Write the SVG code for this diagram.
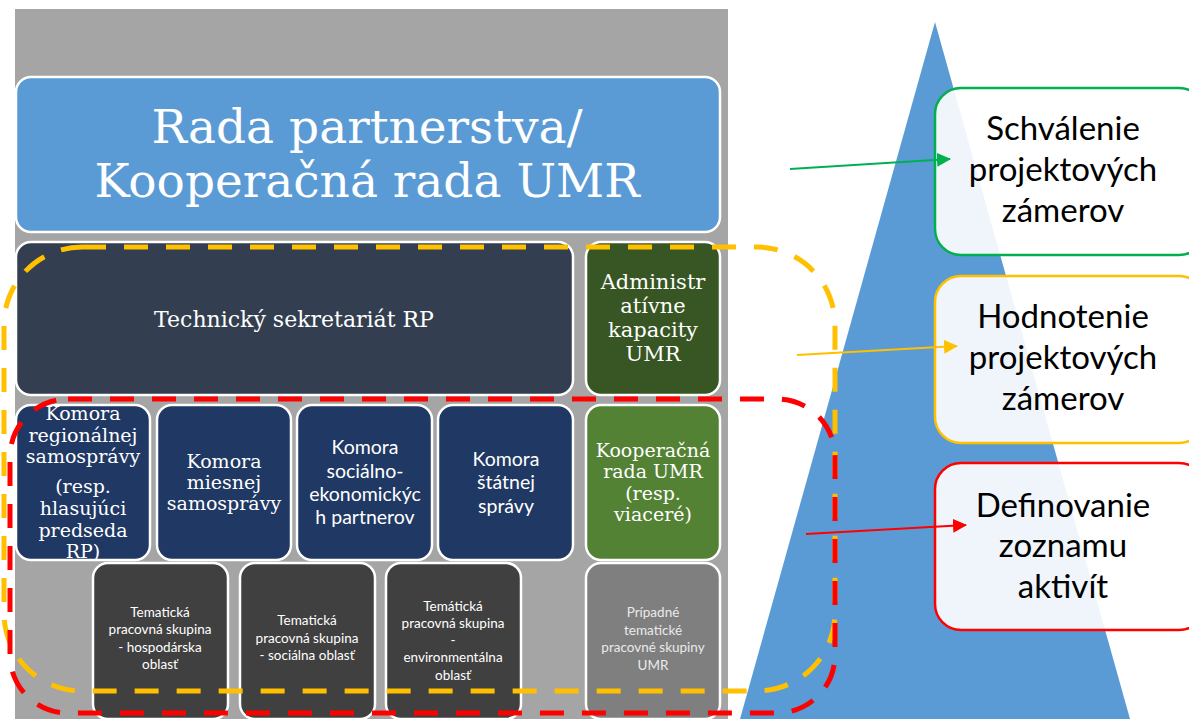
<svg xmlns="http://www.w3.org/2000/svg" width="1189" height="719" viewBox="0 0 1189 719">
<style>
.bx{stroke:#fff;stroke-width:2.5}
.serif{font-family:"DejaVu Serif","Liberation Serif",serif;fill:#fff;text-anchor:middle}
.sans{font-family:Lato,"Liberation Sans",sans-serif;fill:#fff;text-anchor:middle}
.rt{font-family:Lato,"Liberation Sans",sans-serif;fill:#000;text-anchor:middle;font-size:33px}
.rb{fill:#fff;fill-opacity:0.9;stroke-width:2.5}
</style>
<defs>
<marker id="ag" markerWidth="14" markerHeight="14" refX="13" refY="7" orient="auto" markerUnits="userSpaceOnUse"><path d="M0,0 L14,7 L0,14 Z" fill="#00B050"/></marker>
<marker id="ay" markerWidth="14" markerHeight="14" refX="13" refY="7" orient="auto" markerUnits="userSpaceOnUse"><path d="M0,0 L14,7 L0,14 Z" fill="#FFC000"/></marker>
<marker id="ar" markerWidth="14" markerHeight="14" refX="13" refY="7" orient="auto" markerUnits="userSpaceOnUse"><path d="M0,0 L14,7 L0,14 Z" fill="#FF0000"/></marker>
</defs>
<rect x="0" y="0" width="1189" height="719" fill="#fff"/>
<rect id="bg" x="15" y="9" width="713" height="710" fill="#A5A5A5"/>
<polygon id="pyramid" points="935,22 1130,719 740,719" fill="#5B9BD5"/>

<g id="rada"><rect class="bx" x="16" y="77" width="704" height="155" rx="15" fill="#5B9BD5"/>
<text class="serif" font-size="47"><tspan x="367" y="143">Rada partnerstva/</tspan><tspan x="367" y="197">Kooperačná rada UMR</tspan></text></g>

<g id="ts"><rect class="bx" x="16" y="242" width="557" height="153" rx="15" fill="#333F50"/>
<text class="serif" font-size="22" x="294" y="327">Technický sekretariát RP</text></g>

<g id="adm"><rect class="bx" x="586" y="242" width="134" height="153" rx="15" fill="#375623"/>
<text class="serif" font-size="21"><tspan x="653" y="289">Administr</tspan><tspan x="653" y="313">atívne</tspan><tspan x="653" y="337">kapacity</tspan><tspan x="653" y="361">UMR</tspan></text></g>

<g id="k1"><rect class="bx" x="16" y="405" width="134" height="155" rx="15" fill="#1F3864"/>
<text class="serif" font-size="19"><tspan x="83" y="420">Komora</tspan><tspan x="83" y="442">regionálnej</tspan><tspan x="83" y="463">samosprávy</tspan><tspan x="83" y="493">(resp.</tspan><tspan x="83" y="515">hlasujúci</tspan><tspan x="83" y="537">predseda</tspan><tspan x="83" y="558">RP)</tspan></text></g>

<g id="k2"><rect class="bx" x="157" y="405" width="134" height="155" rx="15" fill="#1F3864"/>
<text class="serif" font-size="19"><tspan x="224" y="468">Komora</tspan><tspan x="224" y="489">miesnej</tspan><tspan x="224" y="510">samosprávy</tspan></text></g>

<g id="k3"><rect class="bx" x="297" y="405" width="135" height="155" rx="15" fill="#1F3864"/>
<text class="sans" font-size="19.5"><tspan x="365" y="454">Komora</tspan><tspan x="365" y="478">sociálno-</tspan><tspan x="365" y="501">ekonomickýc</tspan><tspan x="365" y="524">h partnerov</tspan></text></g>

<g id="k4"><rect class="bx" x="438" y="405" width="135" height="155" rx="15" fill="#1F3864"/>
<text class="sans" font-size="19.5"><tspan x="506" y="466">Komora</tspan><tspan x="506" y="489">štátnej</tspan><tspan x="506" y="513">správy</tspan></text></g>

<g id="kr"><rect class="bx" x="586" y="405" width="134" height="155" rx="15" fill="#548235"/>
<text class="serif" font-size="19"><tspan x="653" y="457">Kooperačná</tspan><tspan x="653" y="478">rada UMR</tspan><tspan x="653" y="500">(resp.</tspan><tspan x="653" y="521">viaceré)</tspan></text></g>

<g id="t1"><rect class="bx" x="93" y="563" width="135" height="156" rx="15" fill="#404040"/>
<text class="sans" font-size="13.5"><tspan x="160" y="617">Tematická</tspan><tspan x="160" y="634">pracovná skupina</tspan><tspan x="160" y="652">- hospodárska</tspan><tspan x="160" y="669">oblasť</tspan></text></g>

<g id="t2"><rect class="bx" x="240" y="563" width="135" height="156" rx="15" fill="#404040"/>
<text class="sans" font-size="13.5"><tspan x="307" y="625">Tematická</tspan><tspan x="307" y="643">pracovná skupina</tspan><tspan x="307" y="660">- sociálna oblasť</tspan></text></g>

<g id="t3"><rect class="bx" x="386" y="563" width="135" height="156" rx="15" fill="#404040"/>
<text class="sans" font-size="13.5"><tspan x="453" y="611">Temátická</tspan><tspan x="453" y="628">pracovná skupina</tspan><tspan x="453" y="645">-</tspan><tspan x="453" y="662">environmentálna</tspan><tspan x="453" y="680">oblasť</tspan></text></g>

<g id="t4"><rect class="bx" x="586" y="563" width="134" height="156" rx="15" fill="#7F7F7F"/>
<text class="sans" font-size="13.5" style="fill:#EAEAEA"><tspan x="653" y="617">Prípadné</tspan><tspan x="653" y="635">tematické</tspan><tspan x="653" y="652">pracovné skupiny</tspan><tspan x="653" y="670">UMR</tspan></text></g>

<g id="zones" fill="none" stroke-width="5" stroke-dasharray="24 18">
<rect x="4" y="247" width="831" height="444" rx="78" stroke="#FFC000"/>
<rect x="10" y="399" width="825" height="314" rx="58" stroke="#FF0000"/>
</g>

<g id="schvalenie"><rect class="rb" x="935" y="88" width="270" height="167" rx="26" stroke="#00B050"/>
<text class="rt"><tspan x="1063" y="140">Schválenie</tspan><tspan x="1063" y="181">projektových</tspan><tspan x="1063" y="222">zámerov</tspan></text></g>

<g id="hodnotenie"><rect class="rb" x="935" y="276" width="270" height="167" rx="26" stroke="#FFC000"/>
<text class="rt"><tspan x="1063" y="328">Hodnotenie</tspan><tspan x="1063" y="369">projektových</tspan><tspan x="1063" y="410">zámerov</tspan></text></g>

<g id="definovanie"><rect class="rb" x="935" y="463" width="270" height="167" rx="26" stroke="#FF0000"/>
<text class="rt"><tspan x="1063" y="517">Definovanie</tspan><tspan x="1063" y="557">zoznamu</tspan><tspan x="1063" y="598">aktivít</tspan></text></g>

<g id="connectors" stroke-width="2.2">
<line x1="790" y1="169" x2="950" y2="159" stroke="#00B050" marker-end="url(#ag)"/>
<line x1="797" y1="355" x2="957" y2="346" stroke="#FFC000" marker-end="url(#ay)"/>
<line x1="806" y1="534" x2="966" y2="525" stroke="#FF0000" marker-end="url(#ar)"/>
</g>
</svg>
